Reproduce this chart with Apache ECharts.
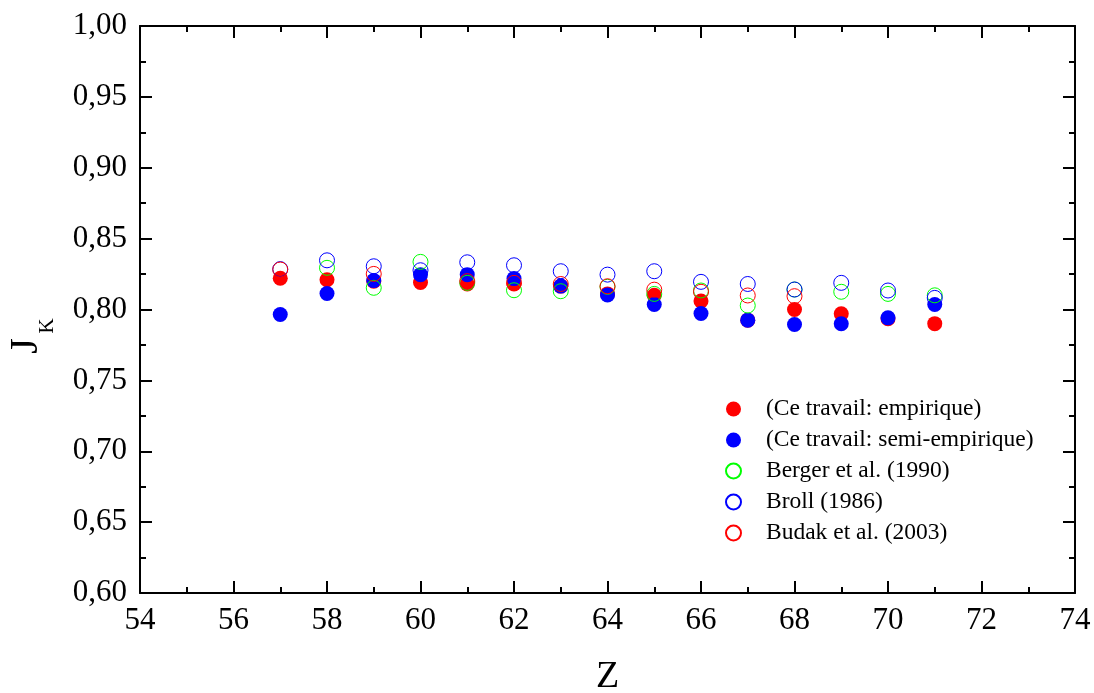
<!DOCTYPE html>
<html>
<head>
<meta charset="utf-8">
<script src="https://cdn.jsdelivr.net/npm/echarts@6/dist/echarts.min.js"></script>
<style>
html,body{margin:0;padding:0;background:#fff;}
#chart{width:1094px;height:693px;}
</style>
</head>
<body>
<div id="chart"></div>
<script>
const Z = [57, 58, 59, 60, 61, 62, 63, 64, 65, 66, 67, 68, 69, 70, 71];
const empirique = [0.822, 0.821, 0.820, 0.819, 0.818, 0.818, 0.8165, 0.811, 0.810, 0.806, 0.7925, 0.800, 0.797, 0.7935, 0.790];
const semiEmpirique = [0.7965, 0.8113, 0.8204, 0.8246, 0.8246, 0.8218, 0.8165, 0.8103, 0.8035, 0.7972, 0.7925, 0.7894, 0.7899, 0.7941, 0.8035];
const berger = [null, 0.8294, 0.8153, 0.8336, 0.8188, 0.8136, 0.8129, 0.816, 0.811, 0.8134, 0.8028, 0.8141, 0.8125, 0.811, 0.810];
const broll = [0.8285, 0.8347, 0.8305, 0.8277, 0.8333, 0.8312, 0.827, 0.8246, 0.827, 0.8195, 0.818, 0.8141, 0.8188, 0.8134, 0.8082];
const budak = [0.8282, null, 0.8251, null, 0.820, 0.8188, 0.818, 0.8164, 0.814, 0.8125, 0.8099, 0.8094, null, null, null];
const seriesNames = ['(Ce travail: empirique)', '(Ce travail: semi-empirique)', 'Berger et al. (1990)', 'Broll (1986)', 'Budak et al. (2003)'];
const xTicks = [54, 56, 58, 60, 62, 64, 66, 68, 70, 72, 74];
const yTicks = [0.60, 0.65, 0.70, 0.75, 0.80, 0.85, 0.90, 0.95, 1.00];

const FONT = '"Liberation Serif", "DejaVu Serif", serif';

function pairs(vals) {
  const out = [];
  Z.forEach((z, i) => { if (vals[i] !== null) out.push([z, vals[i]]); });
  return out;
}

const axisLine = { show: true, onZero: false, lineStyle: { color: '#000', width: 2 } };
const axisTick = { show: true, inside: true, length: 12, lineStyle: { color: '#000', width: 2 } };
const minorTick = { show: true, splitNumber: 2, length: 6, lineStyle: { color: '#000', width: 2 } };

function xAxisDef(pos, showLabel) {
  return {
    type: 'value', position: pos,
    min: xTicks[0], max: xTicks[xTicks.length - 1], interval: xTicks[1] - xTicks[0],
    axisLine, axisTick, minorTick, splitLine: { show: false },
    axisLabel: { show: showLabel, fontFamily: FONT, fontSize: 31, color: '#000', margin: 12 },
    name: showLabel ? 'Z' : '', nameLocation: 'middle', nameGap: 65,
    nameTextStyle: { fontFamily: FONT, fontSize: 38, color: '#000' }
  };
}
function yAxisDef(pos, showLabel) {
  return {
    type: 'value', position: pos,
    min: yTicks[0], max: yTicks[yTicks.length - 1], interval: 0.05,
    axisLine, axisTick, minorTick, splitLine: { show: false },
    axisLabel: { show: showLabel, fontFamily: FONT, fontSize: 31, color: '#000', margin: 13,
      formatter: v => v.toFixed(2).replace('.', ',') }
  };
}

function filled(name, vals, color) {
  return { name, type: 'scatter', xAxisIndex: 0, yAxisIndex: 0, data: pairs(vals),
    symbol: 'circle', symbolSize: 15, itemStyle: { color: color, opacity: 1 } };
}
function open(name, vals, color) {
  return { name, type: 'scatter', xAxisIndex: 0, yAxisIndex: 0, data: pairs(vals),
    symbol: 'circle', symbolSize: 15,
    itemStyle: { color: 'rgba(255,255,255,0)', borderColor: color, borderWidth: 1, opacity: 1 } };
}

const chart = echarts.init(document.getElementById('chart'), null, { renderer: 'canvas' });
chart.setOption({
  animation: false,
  backgroundColor: '#fff',
  grid: { left: 140, right: 19, top: 26, bottom: 100, containLabel: false, outerBoundsMode: 'none' },
  xAxis: [xAxisDef('bottom', true), xAxisDef('top', false)],
  yAxis: [yAxisDef('left', true), yAxisDef('right', false)],
  legend: {
    orient: 'vertical', left: 720, top: 392, itemWidth: 15, itemHeight: 15, itemGap: 7,
    data: seriesNames,
    textStyle: { fontFamily: FONT, fontSize: 23.5, color: '#000', padding: [0, 0, 0, 20] }
  },
  graphic: [
    { type: 'text', x: 26, y: 346, rotation: Math.PI / 2,
      style: { text: 'J', font: '40px ' + FONT, fill: '#000', align: 'center', verticalAlign: 'middle' } },
    { type: 'text', x: 47, y: 326, rotation: Math.PI / 2,
      style: { text: 'K', font: '21px ' + FONT, fill: '#000', align: 'center', verticalAlign: 'middle' } }
  ],
  series: [
    filled(seriesNames[0], empirique, '#ff0000'),
    filled(seriesNames[1], semiEmpirique, '#0000ff'),
    open(seriesNames[2], berger, '#00ff00'),
    open(seriesNames[3], broll, '#0000ff'),
    open(seriesNames[4], budak, '#ff0000')
  ]
});
</script>
</body>
</html>
